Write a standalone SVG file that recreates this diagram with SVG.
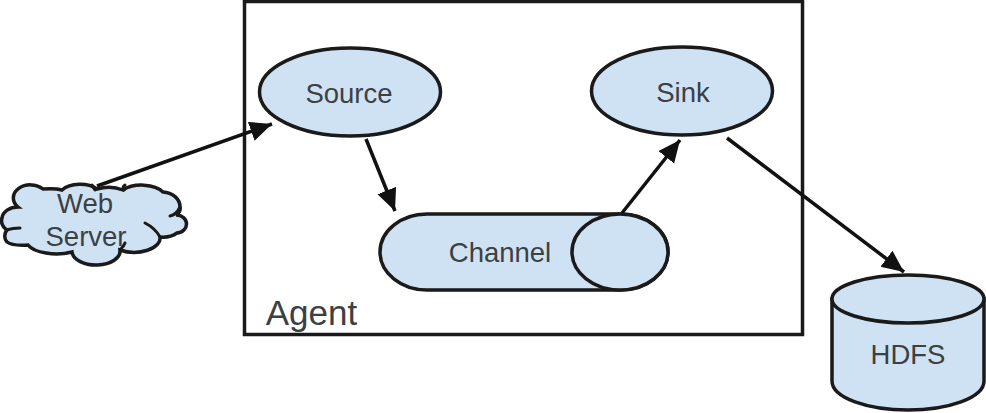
<svg xmlns="http://www.w3.org/2000/svg" width="986" height="413" viewBox="0 0 986 413">
<style>
.s{fill:#cfe2f3;stroke:#1a1a1a;stroke-width:3.500}
.n{fill:none;stroke:#1a1a1a;stroke-width:3;stroke-linecap:round}
.c{fill:none;stroke:#111;stroke-width:3.500}
text{font-family:"Liberation Sans",Arial,sans-serif;fill:#3c4043;font-size:27.500px;text-anchor:middle}
</style>
<defs>
<marker id="a" markerUnits="userSpaceOnUse" markerWidth="24" markerHeight="22" refX="22" refY="10" orient="auto"><path d="M0 0L22 10L0 20Z" fill="#111"/></marker>
</defs>
<rect width="986" height="413" fill="#fff"/>
<g id="agent">
<rect x="244.500" y="1.500" width="558" height="333" fill="none" stroke="#1a1a1a" stroke-width="3.500"/>
<text x="311.500" y="325" style="font-size:35px">Agent</text>
</g>
<g id="source"><ellipse class="s" cx="350" cy="92" rx="90.500" ry="44"/><text x="349" y="103">Source</text></g>
<g id="sink"><ellipse class="s" cx="682" cy="91" rx="90.500" ry="44"/><text x="683" y="102">Sink</text></g>
<g id="channel">
<rect class="s" x="380" y="214" width="288" height="76" rx="47" ry="38"/>
<ellipse class="s" cx="620" cy="252" rx="48" ry="38"/>
<text x="500" y="262">Channel</text>
</g>
<g id="web-server">
<path class="s" d="M2 218A16 12 0 0 1 18 207A17 13 0 0 1 43 189Q55 188 62 190A22 13 0 0 1 97 189A24 13 0 0 1 123 190A24 13 0 0 1 163 192A18 15 0 0 1 180 207Q181 212 176 215A10 9 0 0 1 177 233Q170 238 160 237A26 14 0 0 1 120 250A24 14 0 0 1 72 252A30 13 0 0 1 28 245Q12 246 7 242A9 9 0 0 1 7 230Q0 225 2 218Z"/>
<path class="n" d="M145 223Q155 228 160 237M6 230Q13 228 20 228M170 216Q176 215 180 207M124 190Q122 187 125 185M95 190Q93 187 92 185M120 250Q124 246 125 243"/>
<text x="85" y="213">Web</text>
<text x="86" y="246">Server</text>
</g>
<g id="hdfs">
<path class="s" d="M832 299V381C832 398 868 410 908 410C948 410 984 398 984 381V299Z"/>
<ellipse class="s" cx="908" cy="299" rx="76" ry="24"/>
<text x="908" y="364">HDFS</text>
</g>
<g id="connectors">
<path class="c" marker-end="url(#a)" d="M97 186L272 124"/>
<path class="c" marker-end="url(#a)" d="M366 139L395 211"/>
<path class="c" marker-end="url(#a)" d="M622 213L680 140"/>
<path class="c" marker-end="url(#a)" d="M727 138L904 272"/>
</g>
</svg>
